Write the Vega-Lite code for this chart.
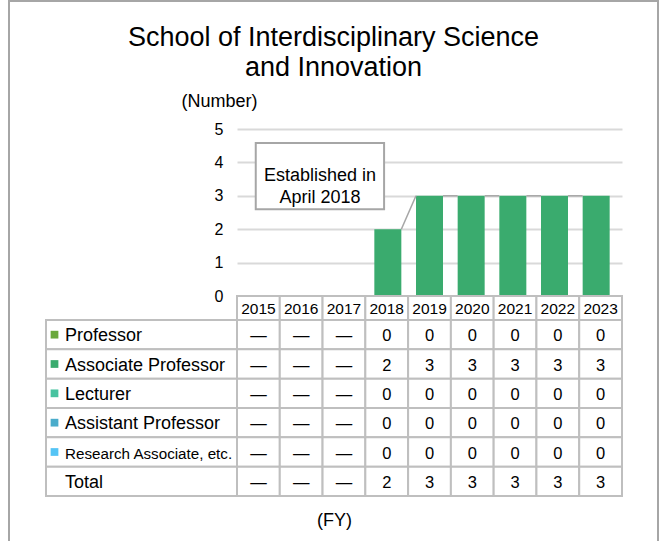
{
  "$schema": "https://vega.github.io/schema/vega-lite/v6.json",
  "padding": {"left": 8, "top": 0, "right": 0, "bottom": 0},
  "background": "white",
  "config": {
    "font": "Liberation Sans",
    "view": {"stroke": null},
    "text": {"color": "#000000"}
  },
  "title": {
    "text": ["School of Interdisciplinary Science", "and Innovation"],
    "fontSize": 27,
    "fontWeight": "normal",
    "color": "#000000",
    "anchor": "middle",
    "lineHeight": 30,
    "offset": -82
  },
  "datasets": {
    "blank": [],
    "table": [
      {"year": 2015, "role": "Professor", "value": null},
      {"year": 2015, "role": "Associate Professor", "value": null},
      {"year": 2015, "role": "Lecturer", "value": null},
      {"year": 2015, "role": "Assistant Professor", "value": null},
      {"year": 2015, "role": "Research Associate, etc.", "value": null},
      {"year": 2015, "role": "Total", "value": null},
      {"year": 2016, "role": "Professor", "value": null},
      {"year": 2016, "role": "Associate Professor", "value": null},
      {"year": 2016, "role": "Lecturer", "value": null},
      {"year": 2016, "role": "Assistant Professor", "value": null},
      {"year": 2016, "role": "Research Associate, etc.", "value": null},
      {"year": 2016, "role": "Total", "value": null},
      {"year": 2017, "role": "Professor", "value": null},
      {"year": 2017, "role": "Associate Professor", "value": null},
      {"year": 2017, "role": "Lecturer", "value": null},
      {"year": 2017, "role": "Assistant Professor", "value": null},
      {"year": 2017, "role": "Research Associate, etc.", "value": null},
      {"year": 2017, "role": "Total", "value": null},
      {"year": 2018, "role": "Professor", "value": 0},
      {"year": 2018, "role": "Associate Professor", "value": 2},
      {"year": 2018, "role": "Lecturer", "value": 0},
      {"year": 2018, "role": "Assistant Professor", "value": 0},
      {"year": 2018, "role": "Research Associate, etc.", "value": 0},
      {"year": 2018, "role": "Total", "value": 2},
      {"year": 2019, "role": "Professor", "value": 0},
      {"year": 2019, "role": "Associate Professor", "value": 3},
      {"year": 2019, "role": "Lecturer", "value": 0},
      {"year": 2019, "role": "Assistant Professor", "value": 0},
      {"year": 2019, "role": "Research Associate, etc.", "value": 0},
      {"year": 2019, "role": "Total", "value": 3},
      {"year": 2020, "role": "Professor", "value": 0},
      {"year": 2020, "role": "Associate Professor", "value": 3},
      {"year": 2020, "role": "Lecturer", "value": 0},
      {"year": 2020, "role": "Assistant Professor", "value": 0},
      {"year": 2020, "role": "Research Associate, etc.", "value": 0},
      {"year": 2020, "role": "Total", "value": 3},
      {"year": 2021, "role": "Professor", "value": 0},
      {"year": 2021, "role": "Associate Professor", "value": 3},
      {"year": 2021, "role": "Lecturer", "value": 0},
      {"year": 2021, "role": "Assistant Professor", "value": 0},
      {"year": 2021, "role": "Research Associate, etc.", "value": 0},
      {"year": 2021, "role": "Total", "value": 3},
      {"year": 2022, "role": "Professor", "value": 0},
      {"year": 2022, "role": "Associate Professor", "value": 3},
      {"year": 2022, "role": "Lecturer", "value": 0},
      {"year": 2022, "role": "Assistant Professor", "value": 0},
      {"year": 2022, "role": "Research Associate, etc.", "value": 0},
      {"year": 2022, "role": "Total", "value": 3},
      {"year": 2023, "role": "Professor", "value": 0},
      {"year": 2023, "role": "Associate Professor", "value": 3},
      {"year": 2023, "role": "Lecturer", "value": 0},
      {"year": 2023, "role": "Assistant Professor", "value": 0},
      {"year": 2023, "role": "Research Associate, etc.", "value": 0},
      {"year": 2023, "role": "Total", "value": 3}
    ],
    "series": [
      {"from": 2018, "to": 2019, "v1": 2, "v2": 3},
      {"from": 2019, "to": 2020, "v1": 3, "v2": 3},
      {"from": 2020, "to": 2021, "v1": 3, "v2": 3},
      {"from": 2021, "to": 2022, "v1": 3, "v2": 3},
      {"from": 2022, "to": 2023, "v1": 3, "v2": 3}
    ],
    "note": [
      {"x1": 2014.83, "x2": 2017.91, "y1": 4.58, "y2": 2.6, "xm": 2016.37, "ym": 3.59, "text": ["Established in", "April 2018"]}
    ]
  },
  "columns": 6,
  "spacing": 0,
  "bounds": "flush",
  "align": "each",
  "concat": [
    {"width": 2, "height": 2, "view": {"fill": "#a6a6a6", "stroke": null}, "data": {"name": "blank"}, "mark": "point", "encoding": {}},
    {"width": 36, "height": 2, "view": {"fill": "#a6a6a6", "stroke": null}, "data": {"name": "blank"}, "mark": "point", "encoding": {}},
    {"width": 191, "height": 2, "view": {"fill": "#a6a6a6", "stroke": null}, "data": {"name": "blank"}, "mark": "point", "encoding": {}},
    {"width": 385, "height": 2, "view": {"fill": "#a6a6a6", "stroke": null}, "data": {"name": "blank"}, "mark": "point", "encoding": {}},
    {"width": 35, "height": 2, "view": {"fill": "#a6a6a6", "stroke": null}, "data": {"name": "blank"}, "mark": "point", "encoding": {}},
    {"width": 2, "height": 2, "view": {"fill": "#a6a6a6", "stroke": null}, "data": {"name": "blank"}, "mark": "point", "encoding": {}},

    {"width": 2, "height": 127, "view": {"fill": "#a6a6a6", "stroke": null}, "data": {"name": "blank"}, "mark": "point", "encoding": {}},
    {"width": 1, "height": 1, "data": {"name": "blank"}, "mark": "point", "encoding": {}},
    {"width": 1, "height": 1, "data": {"name": "blank"}, "mark": "point", "encoding": {}},
    {"width": 1, "height": 1, "data": {"name": "blank"}, "mark": "point", "encoding": {}},
    {"width": 1, "height": 1, "data": {"name": "blank"}, "mark": "point", "encoding": {}},
    {"width": 2, "height": 127, "view": {"fill": "#a6a6a6", "stroke": null}, "data": {"name": "blank"}, "mark": "point", "encoding": {}},

    {"width": 2, "height": 167, "view": {"fill": "#a6a6a6", "stroke": null}, "data": {"name": "blank"}, "mark": "point", "encoding": {}},
    {"width": 1, "height": 1, "data": {"name": "blank"}, "mark": "point", "encoding": {}},
    {"width": 1, "height": 1, "data": {"name": "blank"}, "mark": "point", "encoding": {}},
    {
      "width": 385, "height": 167,
      "layer": [
        {
          "data": {"name": "table"},
          "transform": [{"filter": "datum.role !== 'Total' && datum.value !== null"}],
          "mark": {"type": "bar", "width": 27},
          "encoding": {
            "x": {"field": "year", "type": "quantitative", "scale": {"domain": [2014.5, 2023.5], "nice": false, "zero": false}, "axis": null},
            "y": {
              "field": "value", "type": "quantitative", "stack": "zero",
              "scale": {"domain": [0, 5], "nice": false},
              "axis": {
                "values": [0, 1, 2, 3, 4, 5],
                "tickCount": 10,
                "format": "d",
                "labelOverlap": false,
                "grid": true, "gridColor": "#d9d9d9", "gridWidth": 2,
                "domain": false, "ticks": false,
                "labelFontSize": 16, "labelColor": "#000000", "labelPadding": 14,
                "title": "(Number)", "titleAngle": 0, "titleFontSize": 18, "titleFontWeight": "normal",
                "titleColor": "#000000", "titleAlign": "center", "titleBaseline": "alphabetic",
                "titleX": -18, "titleY": -23
              }
            },
            "color": {
              "field": "role", "type": "nominal",
              "scale": {
                "domain": ["Professor", "Associate Professor", "Lecturer", "Assistant Professor", "Research Associate, etc."],
                "range": ["#6aa83c", "#3aab6e", "#48c3a0", "#4aaccb", "#55c4f5"]
              },
              "legend": null
            }
          }
        },
        {
          "data": {"name": "series"},
          "mark": {"type": "rule", "color": "#a6a6a6", "strokeWidth": 1.5, "xOffset": 13.5, "x2Offset": -13.5},
          "encoding": {
            "x": {"field": "from", "type": "quantitative"},
            "x2": {"field": "to"},
            "y": {"field": "v1", "type": "quantitative"},
            "y2": {"field": "v2"}
          }
        },
        {
          "data": {"name": "note"},
          "mark": {"type": "rect", "fill": "white", "stroke": "#a6a6a6", "strokeWidth": 2},
          "encoding": {
            "x": {"field": "x1", "type": "quantitative"},
            "x2": {"field": "x2"},
            "y": {"field": "y1", "type": "quantitative"},
            "y2": {"field": "y2"}
          }
        },
        {
          "data": {"name": "note"},
          "mark": {"type": "text", "fontSize": 18, "lineHeight": 22, "align": "center", "baseline": "middle", "color": "#000000"},
          "encoding": {
            "x": {"field": "xm", "type": "quantitative"},
            "y": {"field": "ym", "type": "quantitative"},
            "text": {"field": "text"}
          }
        }
      ]
    },
    {"width": 1, "height": 1, "data": {"name": "blank"}, "mark": "point", "encoding": {}},
    {"width": 2, "height": 167, "view": {"fill": "#a6a6a6", "stroke": null}, "data": {"name": "blank"}, "mark": "point", "encoding": {}},

    {"width": 2, "height": 24, "view": {"fill": "#a6a6a6", "stroke": null}, "data": {"name": "blank"}, "mark": "point", "encoding": {}},
    {"width": 1, "height": 1, "data": {"name": "blank"}, "mark": "point", "encoding": {}},
    {"width": 1, "height": 1, "data": {"name": "blank"}, "mark": "point", "encoding": {}},
    {
      "width": 385, "height": 24,
      "data": {"name": "table"},
      "transform": [{"filter": "datum.role === 'Total'"}],
      "encoding": {
        "x": {"field": "year", "type": "ordinal", "scale": {"paddingInner": 0, "paddingOuter": 0}, "axis": null}
      },
      "layer": [
        {"mark": {"type": "rect", "fill": "white", "stroke": "#bfbfbf", "strokeWidth": 2}},
        {"mark": {"type": "text", "fontSize": 15.5, "dy": 1, "color": "#000000"}, "encoding": {"text": {"field": "year", "type": "nominal"}}}
      ]
    },
    {"width": 1, "height": 1, "data": {"name": "blank"}, "mark": "point", "encoding": {}},
    {"width": 2, "height": 24, "view": {"fill": "#a6a6a6", "stroke": null}, "data": {"name": "blank"}, "mark": "point", "encoding": {}},

    {"width": 2, "height": 176, "view": {"fill": "#a6a6a6", "stroke": null}, "data": {"name": "blank"}, "mark": "point", "encoding": {}},
    {"width": 1, "height": 1, "data": {"name": "blank"}, "mark": "point", "encoding": {}},
    {
      "width": 191, "height": 176,
      "data": {"name": "table"},
      "transform": [{"filter": "datum.year === 2015"}],
      "encoding": {
        "y": {"field": "role", "type": "nominal", "scale": {"domain": ["Professor", "Associate Professor", "Lecturer", "Assistant Professor", "Research Associate, etc.", "Total"], "paddingInner": 0, "paddingOuter": 0}, "axis": null}
      },
      "layer": [
        {"mark": {"type": "rect", "fill": "white", "stroke": "#bfbfbf", "strokeWidth": 2}},
        {
          "transform": [{"filter": "datum.role !== 'Total'"}],
          "mark": {"type": "square", "size": 60, "opacity": 1, "filled": true, "xOffset": -87},
          "encoding": {
            "color": {
              "field": "role", "type": "nominal",
              "scale": {
                "domain": ["Professor", "Associate Professor", "Lecturer", "Assistant Professor", "Research Associate, etc."],
                "range": ["#6aa83c", "#3aab6e", "#48c3a0", "#4aaccb", "#55c4f5"]
              },
              "legend": null
            }
          }
        },
        {
          "transform": [{"filter": "datum.role !== 'Research Associate, etc.'"}],
          "mark": {"type": "text", "align": "left", "fontSize": 18, "dx": -76.5, "dy": 1.5, "color": "#000000"},
          "encoding": {"text": {"field": "role", "type": "nominal"}}
        },
        {
          "transform": [{"filter": "datum.role === 'Research Associate, etc.'"}],
          "mark": {"type": "text", "align": "left", "fontSize": 15.2, "dx": -76.5, "dy": 1.5, "color": "#000000"},
          "encoding": {"text": {"field": "role", "type": "nominal"}}
        }
      ]
    },
    {
      "width": 385, "height": 176,
      "data": {"name": "table"},
      "encoding": {
        "x": {
          "field": "year", "type": "ordinal", "scale": {"paddingInner": 0, "paddingOuter": 0},
          "axis": {
            "title": "(FY)", "labels": false, "ticks": false, "domain": false,
            "titleFontSize": 18, "titleFontWeight": "normal", "titleColor": "#000000",
            "titleX": 97, "titleY": 29, "titleBaseline": "alphabetic", "titleAlign": "center"
          }
        },
        "y": {"field": "role", "type": "nominal", "scale": {"domain": ["Professor", "Associate Professor", "Lecturer", "Assistant Professor", "Research Associate, etc.", "Total"], "paddingInner": 0, "paddingOuter": 0}, "axis": null}
      },
      "layer": [
        {"mark": {"type": "rect", "fill": "white", "stroke": "#bfbfbf", "strokeWidth": 2}},
        {
          "mark": {"type": "text", "fontSize": 16.5, "dy": 1.5, "color": "#000000"},
          "encoding": {
            "text": {"condition": {"test": "datum.value === null", "value": "—"}, "field": "value", "type": "quantitative"}
          }
        }
      ]
    },
    {"width": 1, "height": 1, "data": {"name": "blank"}, "mark": "point", "encoding": {}},
    {"width": 2, "height": 176, "view": {"fill": "#a6a6a6", "stroke": null}, "data": {"name": "blank"}, "mark": "point", "encoding": {}},

    {"width": 2, "height": 45, "view": {"fill": "#a6a6a6", "stroke": null}, "data": {"name": "blank"}, "mark": "point", "encoding": {}},
    {"width": 1, "height": 1, "data": {"name": "blank"}, "mark": "point", "encoding": {}},
    {"width": 1, "height": 1, "data": {"name": "blank"}, "mark": "point", "encoding": {}},
    {"width": 1, "height": 1, "data": {"name": "blank"}, "mark": "point", "encoding": {}},
    {"width": 1, "height": 1, "data": {"name": "blank"}, "mark": "point", "encoding": {}},
    {"width": 2, "height": 45, "view": {"fill": "#a6a6a6", "stroke": null}, "data": {"name": "blank"}, "mark": "point", "encoding": {}}
  ]
}
